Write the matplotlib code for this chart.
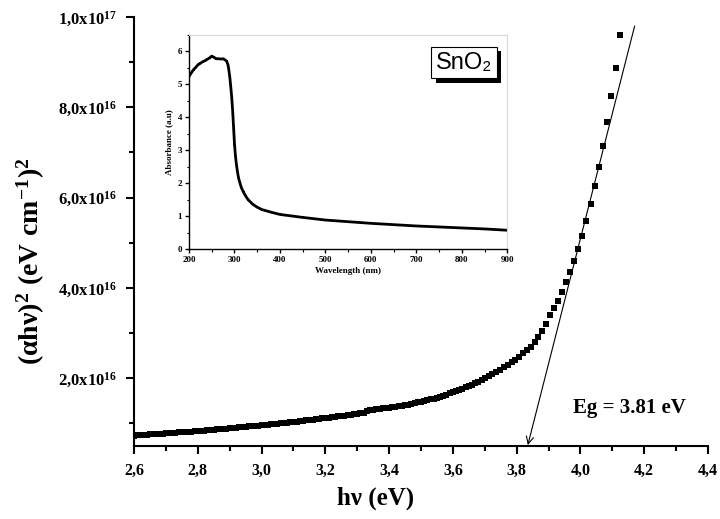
import matplotlib
matplotlib.use("Agg")
import matplotlib.pyplot as plt
import numpy as np
from matplotlib.ticker import MultipleLocator, FixedLocator
import matplotlib.patheffects as pe

plt.rcParams['mathtext.fontset'] = 'custom'
plt.rcParams['mathtext.rm'] = 'Liberation Serif:bold'
plt.rcParams['mathtext.bf'] = 'Liberation Serif:bold'
plt.rcParams['mathtext.it'] = 'Liberation Serif:bold'
plt.rcParams['font.family'] = ['Liberation Serif', 'DejaVu Serif']
plt.rcParams['font.weight'] = 'bold'

# Tauc plot, (alpha h nu)^2 in units of 1e16 (eV cm^-1)^2
energy_ev = [
    2.60, 2.61, 2.62, 2.63, 2.64, 2.65, 2.66, 2.67, 2.68, 2.69,
    2.70, 2.71, 2.72, 2.73, 2.74, 2.75, 2.76, 2.77, 2.78, 2.79,
    2.80, 2.81, 2.82, 2.83, 2.84, 2.85, 2.86, 2.87, 2.88, 2.89,
    2.90, 2.91, 2.92, 2.93, 2.94, 2.95, 2.96, 2.97, 2.98, 2.99,
    3.00, 3.01, 3.02, 3.03, 3.04, 3.05, 3.06, 3.07, 3.08, 3.09,
    3.10, 3.11, 3.12, 3.13, 3.14, 3.15, 3.16, 3.17, 3.18, 3.19,
    3.20, 3.21, 3.22, 3.23, 3.24, 3.25, 3.26, 3.27, 3.28, 3.29,
    3.30, 3.31, 3.32, 3.33, 3.34, 3.35, 3.36, 3.37, 3.38, 3.39,
    3.40, 3.41, 3.42, 3.43, 3.44, 3.45, 3.46, 3.47, 3.48, 3.49,
    3.50, 3.51, 3.52, 3.53, 3.54, 3.55, 3.56, 3.57, 3.58, 3.59,
    3.60, 3.61, 3.62, 3.63, 3.64, 3.65, 3.66, 3.67, 3.68, 3.69,
    3.700, 3.712, 3.724, 3.736, 3.748, 3.760, 3.772, 3.784, 3.796, 3.808,
    3.820, 3.832, 3.844, 3.856, 3.868, 3.880, 3.892, 3.905, 3.917, 3.930,
    3.942, 3.955, 3.967, 3.980, 3.993, 4.006, 4.018, 4.032, 4.045, 4.058,
    4.071, 4.084, 4.097, 4.111, 4.124,
]
alpha_hv_sq = [
    0.730, 0.735, 0.740, 0.745, 0.750, 0.755, 0.760, 0.765, 0.770, 0.775,
    0.780, 0.785, 0.790, 0.795, 0.800, 0.805, 0.810, 0.815, 0.820, 0.825,
    0.830, 0.836, 0.842, 0.848, 0.854, 0.860, 0.866, 0.872, 0.878, 0.884,
    0.890, 0.897, 0.904, 0.911, 0.918, 0.925, 0.932, 0.939, 0.946, 0.953,
    0.960, 0.967, 0.974, 0.981, 0.988, 0.995, 1.002, 1.009, 1.016, 1.023,
    1.030, 1.039, 1.048, 1.057, 1.066, 1.075, 1.084, 1.093, 1.102, 1.111,
    1.120, 1.129, 1.138, 1.147, 1.156, 1.165, 1.174, 1.183, 1.192, 1.201,
    1.210, 1.225, 1.240, 1.270, 1.295, 1.302, 1.310, 1.320, 1.330, 1.340,
    1.350, 1.361, 1.372, 1.383, 1.395, 1.406, 1.418, 1.430, 1.446, 1.463,
    1.480, 1.497, 1.514, 1.531, 1.550, 1.570, 1.592, 1.616, 1.640, 1.665,
    1.690, 1.717, 1.744, 1.771, 1.800, 1.830, 1.860, 1.892, 1.925, 1.960,
    2.01, 2.05, 2.09, 2.14, 2.18, 2.24, 2.29, 2.35, 2.41, 2.48,
    2.55, 2.62, 2.70, 2.80, 2.92, 3.05, 3.21, 3.39, 3.56, 3.72,
    3.92, 4.13, 4.35, 4.60, 4.86, 5.16, 5.49, 5.85, 6.25, 6.68,
    7.14, 7.67, 8.25, 8.88, 9.60,
]

# linear fit extrapolated to the energy axis
fit_x = [4.17, 3.835]
fit_y = [9.8e16, 5.2e15]
eg_label = 'Eg = 3.81 eV'

x_ticks = [2.6, 2.8, 3.0, 3.2, 3.4, 3.6, 3.8, 4.0, 4.2, 4.4]
x_ticklabels = ['2,6', '2,8', '3,0', '3,2', '3,4', '3,6', '3,8', '4,0', '4,2', '4,4']
y_ticks = [2e16, 4e16, 6e16, 8e16, 1e17]
y_ticklabels = [r'$2{,}0x10^{16}$', r'$4{,}0x10^{16}$', r'$6{,}0x10^{16}$',
                r'$8{,}0x10^{16}$', r'$1{,}0x10^{17}$']

# inset: absorbance spectrum
wavelength_nm = [200, 205, 210, 215, 220, 225, 230, 235, 240, 245, 250, 255, 260,
                 265, 270, 275, 280, 283, 286, 288, 290, 292, 294, 296, 298, 300,
                 302, 304, 306, 308, 310, 315, 320, 325, 330, 340, 350, 360, 380,
                 400, 450, 500, 550, 600, 650, 700, 750, 800, 850, 900]
absorbance = [5.24, 5.35, 5.45, 5.52, 5.60, 5.64, 5.69, 5.72, 5.76, 5.80, 5.86, 5.82, 5.78,
              5.78, 5.77, 5.78, 5.74, 5.70, 5.58, 5.40, 5.19, 4.90, 4.60, 4.20, 3.70, 3.20,
              2.85, 2.60, 2.40, 2.23, 2.10, 1.87, 1.72, 1.60, 1.50, 1.36, 1.27, 1.20, 1.12,
              1.05, 0.96, 0.88, 0.83, 0.78, 0.74, 0.70, 0.67, 0.64, 0.61, 0.57]

fig = plt.figure(figsize=(7.2, 5.19), dpi=100)
ax = fig.add_axes([0.1861, 0.1407, 0.7972, 0.8265])

ax.plot(energy_ev, np.array(alpha_hv_sq) * 1e16, 's', color='black', ms=3.9, mew=0)
ax.annotate('', xy=(fit_x[1], fit_y[1]), xytext=(fit_x[0], fit_y[0]),
            arrowprops=dict(arrowstyle='->', lw=0.8, color='black', mutation_scale=13,
                            shrinkA=0, shrinkB=0))
ax.text(4.155, 1.33e16, eg_label, fontsize=15, fontweight='bold', ha='center', va='center')

ax.set_xlim(2.6, 4.4)
ax.set_ylim(5e15, 1e17)
ax.set_xticks(x_ticks)
ax.set_xticklabels(x_ticklabels, fontsize=11.5, fontweight='bold')
ax.set_yticks(y_ticks)
ax.set_yticklabels(y_ticklabels, fontsize=12)
ax.xaxis.set_minor_locator(MultipleLocator(0.1))
ax.yaxis.set_minor_locator(FixedLocator([1e16, 3e16, 5e16, 7e16, 9e16]))
ax.tick_params(which='major', direction='out', length=6, width=1.5, pad=6)
ax.tick_params(which='minor', direction='out', length=3.5, width=1.5)
for s in ['top', 'right']:
    ax.spines[s].set_visible(False)
for s in ['left', 'bottom']:
    ax.spines[s].set_linewidth(1.5)

ax.set_xlabel('h\u03bd (eV)', fontsize=18, fontweight='bold')
ax.xaxis.set_label_coords(0.4216, -0.095)
ax.set_ylabel(r'$(\alpha h\nu)^2\ (eV\ cm^{-1})^2$', fontsize=20)
ax.yaxis.set_label_coords(-0.152, 0.43)

# inset
ins = fig.add_axes([0.2625, 0.5202, 0.4421, 0.4123])
ins.plot(wavelength_nm, absorbance, '-', color='black', lw=2)
ins.plot(wavelength_nm, absorbance, 's', color='black', ms=1.6, mew=0)
ins.set_xlim(200, 900)
ins.set_ylim(0, 6.5)
ins.set_xticks([200, 300, 400, 500, 600, 700, 800, 900])
ins.set_yticks([0, 1, 2, 3, 4, 5, 6])
ins.xaxis.set_minor_locator(MultipleLocator(50))
ins.yaxis.set_minor_locator(MultipleLocator(0.5))
ins.tick_params(which='major', direction='out', length=3, width=1, labelsize=6.5, pad=2)
ins.tick_params(which='minor', direction='out', length=1.8, width=0.8)
for lab in ins.get_xticklabels() + ins.get_yticklabels():
    lab.set_fontweight('bold')
for s in ['top', 'right']:
    ins.spines[s].set_color('#d8d8d8')
    ins.spines[s].set_linewidth(0.8)
for s in ['left', 'bottom']:
    ins.spines[s].set_linewidth(1)
ins.set_xlabel('Wavelength (nm)', fontsize=6.5, fontweight='bold', labelpad=2)
ins.set_ylabel('Absorbance (a.u)', fontsize=6.5, fontweight='bold', labelpad=3)

ins.text(0.865, 0.871, 'SnO\u2082', transform=ins.transAxes, fontsize=17,
         family=['Liberation Sans', 'DejaVu Sans'], fontweight='normal',
         ha='center', va='center',
         bbox=dict(boxstyle='square,pad=0.2', fc='white', ec='black', lw=0.8,
                   path_effects=[pe.withSimplePatchShadow(offset=(3, -3),
                                                          shadow_rgbFace='black', alpha=1)]))

fig.savefig('out.png', dpi=100)
